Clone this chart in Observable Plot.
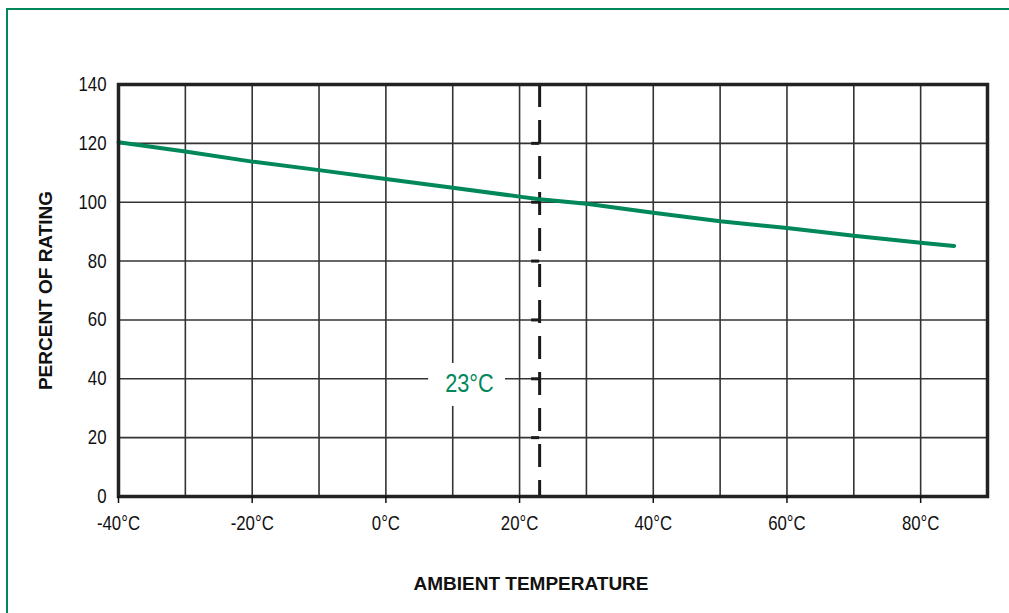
<!DOCTYPE html>
<html>
<head>
<meta charset="utf-8">
<script src="https://cdn.jsdelivr.net/npm/d3@7"></script>
<script src="https://cdn.jsdelivr.net/npm/@observablehq/plot@0.6"></script>
<style>
  html, body { margin: 0; padding: 0; background: #fff; overflow: hidden; }
  #wrap { position: relative; width: 1009px; height: 613px; overflow: hidden; }
  #border { position: absolute; left: 6px; top: 8px; width: 1200px; height: 800px;
            border: 2.5px solid #00875A; box-sizing: border-box; pointer-events: none; }
  #chart { position: absolute; left: 0; top: 0; }
</style>
</head>
<body>
<div id="wrap">
  <div id="border"></div>
  <div id="chart"></div>
</div>
<script>
// Data
const temperatures = [-40, -30, -20, -10, 0, 10, 20, 23, 30, 40, 50, 60, 70, 80, 85];
const percentRating = [120.4, 117.2, 113.8, 110.9, 107.9, 104.9, 101.9, 101.0, 99.5, 96.4, 93.5, 91.2, 88.6, 86.2, 85.1];

const xTicks = [-40, -20, 0, 20, 40, 60, 80];
const xTickLabels = ["-40°C", "-20°C", "0°C", "20°C", "40°C", "60°C", "80°C"];
const xGrid = [-40, -30, -20, -10, 0, 10, 20, 30, 40, 50, 60, 70, 80, 90];
const yTicks = [0, 20, 40, 60, 80, 100, 120, 140];

const referenceTemp = 23;
const referenceLabel = [{x: 12.5, y: 38.5, text: "23°C"}];
const referenceLabelBox = [{x1: 6.4, x2: 17.9, y1: 30.6, y2: 45.2}];

const xTitle = "AMBIENT TEMPERATURE";
const yTitle = "PERCENT OF RATING";

const green = "#00875A";
const data = temperatures.map((t, i) => ({t, p: percentRating[i]}));

const narrow = "'Liberation Sans', Arial, sans-serif";

const chart = Plot.plot({
  width: 1009,
  height: 613,
  marginLeft: 118,
  marginRight: 22,
  marginTop: 84,
  marginBottom: 117,
  x: {domain: [-40, 90]},
  y: {domain: [0, 140]},
  style: {
    fontFamily: narrow,
    fontSize: "20.5px",
    background: "transparent",
    color: "#111"
  },
  marks: [
    Plot.ruleX(xGrid, {stroke: "#333", strokeWidth: 1.6}),
    Plot.ruleY(yTicks, {stroke: "#333", strokeWidth: 1.6}),
    Plot.rect(referenceLabelBox, {x1: "x1", x2: "x2", y1: "y1", y2: "y2", fill: "white"}),
    Plot.text(referenceLabel, {x: "x", y: "y", text: "text", fill: green, fontSize: 26.5}),
    Plot.ruleX([referenceTemp], {stroke: "#1a1a1a", strokeWidth: 3, strokeDasharray: "23,13"}),
    Plot.ruleY(yTicks, {x1: referenceTemp - 1.2, x2: referenceTemp, stroke: "#1a1a1a", strokeWidth: 3}),
    Plot.line(data, {x: "t", y: "p", stroke: green, strokeWidth: 4}),
    Plot.frame({stroke: "#222", strokeWidth: 3.5}),
    Plot.axisX(xTicks, {
      tickFormat: (d) => xTickLabels[xTicks.indexOf(d)],
      tickSize: 7, tickPadding: 12, strokeWidth: 1.5, label: null, fontSize: 20.5
    }),
    Plot.axisY(yTicks, {tickSize: 0, tickPadding: 12, label: null, fontSize: 20.5}),
    Plot.text([xTitle], {
      frameAnchor: "bottom", dx: -22, dy: 93, text: (d) => d,
      fontFamily: "'Liberation Sans', Arial, sans-serif", fontWeight: "bold", fontSize: 19, fill: "#111"
    }),
    Plot.text([yTitle], {
      frameAnchor: "left", dx: -73, rotate: -90, textAnchor: "middle", text: (d) => d,
      fontFamily: "'Liberation Sans', Arial, sans-serif", fontWeight: "bold", fontSize: 19, fill: "#111"
    })
  ]
});

// Condense the tick labels and the 23°C label (like Arial Narrow)
function condense(el, k) {
  const t = el.getAttribute("transform");
  if (t) {
    el.setAttribute("transform", t + ` scale(${k},1)`);
  } else {
    const x = +el.getAttribute("x") || 0;
    el.setAttribute("transform", `translate(${x},0) scale(${k},1) translate(${-x},0)`);
  }
}
chart.querySelectorAll('g[aria-label="x-axis tick label"] text, g[aria-label="y-axis tick label"] text')
  .forEach((el) => condense(el, 0.82));
chart.querySelectorAll('text').forEach((el) => {
  if (el.textContent === referenceLabel[0].text) condense(el, 0.82);
});

document.getElementById("chart").appendChild(chart);
</script>
</body>
</html>
